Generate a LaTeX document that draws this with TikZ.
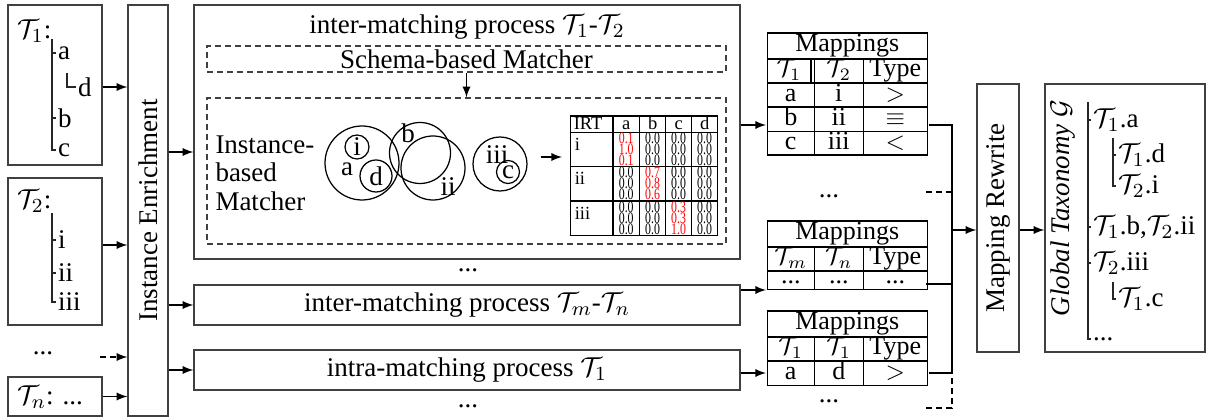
\documentclass[tikz,border=0pt]{standalone}
\usepackage{fontspec}
\setmainfont{Liberation Serif}
\usepackage{array}
\usepackage{tikz}
\usetikzlibrary{calc,positioning,fit}
\usetikzlibrary{shapes.geometric, arrows}
\setlength{\tabcolsep}{0pt}
\renewcommand{\arraystretch}{0}
\setlength{\arrayrulewidth}{0.6pt}
\setlength{\doublerulesep}{0.8pt}
\newcommand{\mT}[1]{$\mathcal{T}_{#1}$}
\newcommand{\hstrut}{\rule[-2.8pt]{0pt}{7.8pt}}
\newcommand{\rstrut}{\rule[-2pt]{0pt}{6.8pt}}
\newcommand{\irtstrut}{\rule[-0.2pt]{0pt}{13.2pt}}
\newcommand{\nums}[3]{\vbox{\fontsize{6.4}{4.4}\selectfont\lineskiplimit=-10pt
  \hbox{\scalebox{0.74}[1]{#1}}\hbox{\scalebox{0.74}[1]{#2}}\hbox{\scalebox{0.74}[1]{#3}}}}
\newcommand{\zz}{\nums{0.0}{0.0}{0.0}}
\newcommand{\rlab}[1]{\irtstrut\hspace{1.6pt}\raisebox{6pt}{#1}}
\tikzstyle{box} = [rectangle, draw=black!75, line width=0.5pt, inner sep=0pt]
\tikzstyle{dbox} = [box, dash pattern=on 2.4pt off 1.6pt]
\tikzstyle{set} = [circle, draw=black, line width=0.5pt, inner sep=0pt]
\tikzstyle{item} = [anchor=west, inner sep=0.6pt]
\tikzstyle{tree} = [line width=0.45pt, draw=black!85]
\tikzstyle{link} = [line width=0.5pt]
\tikzstyle{dlink} = [link, dash pattern=on 2.4pt off 1.6pt]
\tikzstyle{arrow} = [link,->,>=latex]
\tikzstyle{tbl} = [anchor=north west, inner sep=0pt, font=\fontsize{10.4}{12}\selectfont]
\begin{document}
\begin{tikzpicture}[x=0.4pt, y=-0.4pt, font=\fontsize{10.8}{13}\selectfont]
			\useasboundingbox (0,0) rectangle (1206,418);
			% input taxonomies
			\node (t1box) [box, fit={(8,5) (102,165)}] {};
			\node (t1name) [item] at (15,31) {\mT1:};
			\node (t1a) [item] at (56,53) {a};
			\node (t1d) [item] at (76,87) {d};
			\node (t1b) [item] at (56,118) {b};
			\node (t1c) [item] at (56,150) {c};
			\coordinate (t1trunk) at (52,39);
			\coordinate (t1sub) at (67,73);
			\draw [tree] (t1trunk) |- (t1c);
			\draw [tree] (t1trunk |- t1a) -- (t1a);
			\draw [tree] (t1trunk |- t1b) -- (t1b);
			\draw [tree] (t1sub) |- (t1d);
			
			\node (t2box) [box, fit={(8,178) (102,325)}] {};
			\node (t2name) [item] at (15,201) {\mT2:};
			\node (t2i) [item] at (56,240) {i};
			\node (t2ii) [item] at (56,273) {ii};
			\node (t2iii) [item] at (56,302) {iii};
			\coordinate (t2trunk) at (52,213);
			\draw [tree] (t2trunk) |- (t2iii);
			\draw [tree] (t2trunk |- t2i) -- (t2i);
			\draw [tree] (t2trunk |- t2ii) -- (t2ii);
			
			\node (tdots) at (43,353) {...};
			\node (tnbox) [box, fit={(8,377) (102,416)}] {};
			\node (tnname) [item] at (15,397) {$\mathcal{T}_n$: ...};
			
			\node (enrich) [box, fit={(128,5) (168,416)}] {};
			\node (enrichtxt) [rotate=90] at (enrich.center) {Instance Enrichment};
			
			% matching processes
			\node (inter12) [box, fit={(194,5) (740,259)}] {};
			\node (title12) at (467,27) {inter-matching process \mT1-\mT2};
			\node (schema) [dbox, fit={(207,46) (726,72)}] {};
			\node (schematxt) at (schema.center) {Schema-based Matcher};
			\node (inst) [dbox, fit={(207,98) (726,244)}] {};
			\node (insttxt) [anchor=west, align=left, inner sep=0pt, font=\fontsize{10.8}{11.4}\selectfont] at (215,173) {Instance-\\based\\Matcher};
			
			\node (seta) [set, minimum size=29.6pt] at (362,163) {};
			\node (seti) [set, minimum size=9.6pt] at (357,147) {i};
			\node (setd) [set, minimum size=12.8pt] at (376,176) {d};
			\node (lbla) at (347,169) {a};
			\node (setb) [set, minimum size=24.4pt] at (420,153) {};
			\node (lblb) at (408,133) {b};
			\node (setii) [set, minimum size=25.6pt] at (433,168) {};
			\node (lblii) at (448,187) {ii};
			\node (setiii) [set, minimum size=21.6pt] at (500,164) {};
			\node (lbliii) at (497,155) {iii};
			\node (setc) [set, minimum size=9.2pt] at (508,172) {c};
			
			\node (irt) [tbl] at (569,115) {\setlength{\arrayrulewidth}{0.5pt}\fontsize{7.4}{8}\selectfont
				\begin{tabular}{|w{l}{16.6pt}|w{c}{10.2pt}|w{c}{9.9pt}|w{c}{9.9pt}|w{c}{9.9pt}|}
					\hline
					\rule[-0.8pt]{0pt}{5.6pt}\hspace{1.2pt}IRT & a & b & c & d\\ \hline
					\rlab{i} & {\color{red}\nums{0.1}{1.0}{0.1}} & \zz & \zz & \zz\\ \hline
					\rlab{ii} & \zz & {\color{red}\nums{0.7}{0.8}{0.6}} & \zz & \zz\\ \hline
					\rlab{iii} & \zz & \zz & {\color{red}\nums{0.3}{0.3}{1.0}} & \zz\\ \hline
				\end{tabular}};
			
			\node (mdots1) at (468,270) {...};
			\node (intermn) [box, fit={(194,285) (740,325)}] {};
			\node (intermntxt) at (intermn.center) {inter-matching process $\mathcal{T}_m$-$\mathcal{T}_n$};
			\node (intra) [box, fit={(194,350) (740,390)}] {};
			\node (intratxt) at (intra.center) {intra-matching process \mT1};
			\node (mdots2) at (468,406) {...};
			
			% mappings
			\node (map1) [tbl] at (766,32) {\begin{tabular}{|w{c}{18.2pt}|w{c}{19pt}|w{c}{25pt}|}
					\hline
					\multicolumn{3}{|c|}{\hstrut Mappings}\\ \hline
					\multicolumn{1}{|w{c}{16.8pt}||}{\rstrut\mT1} & \mT2 & Type\\ \hline
					\rstrut a & i & $>$\\ \hline
					\rstrut b & ii & $\equiv$\\ \hline
					\rstrut c & iii & $<$\\ \hline
				\end{tabular}};
			\node (pdots1) at (829,196) {...};
			\node (map2) [tbl] at (766,220) {\begin{tabular}{|w{c}{18.2pt}|w{c}{19pt}|w{c}{25pt}|}
					\hline
					\multicolumn{3}{|c|}{\hstrut Mappings}\\ \hline
					\rstrut $\mathcal{T}_m$ & $\mathcal{T}_n$ & Type\\ \hline
					\rstrut ... & ... & ...\\ \hline
				\end{tabular}};
			\node (map3) [tbl] at (766,310) {\begin{tabular}{|w{c}{18.2pt}|w{c}{19pt}|w{c}{25pt}|}
					\hline
					\multicolumn{3}{|c|}{\hstrut Mappings}\\ \hline
					\rstrut \mT1 & \mT1 & Type\\ \hline
					\rstrut a & d & $>$\\ \hline
				\end{tabular}};
			\node (pdots2) at (829,401) {...};
			
			% output
			\node (rewrite) [box, fit={(977,84) (1019,352)}] {};
			\node (rewritetxt) [rotate=90] at (rewrite.center) {Mapping Rewrite};
			\node (global) [box, fit={(1045,84) (1205,352)}] {};
			\node (globaltxt) [rotate=90, font=\fontsize{10.8}{13}\selectfont\itshape] at (1063,208) {Global Taxonomy $\mathcal{G}$};
			\node (g1a) [item] at (1091,120) {\mT1.a};
			\node (g1d) [item] at (1116,155) {\mT1.d};
			\node (g2i) [item] at (1116,186) {\mT2.i};
			\node (g1b) [item] at (1091,227) {\mT1.b,\mT2.ii};
			\node (g2iii) [item] at (1091,263) {\mT2.iii};
			\node (g1c) [item] at (1116,299) {\mT1.c};
			\node (gdots) [item] at (1091,339) {...};
			\coordinate (gtrunk) at (1088,102);
			\coordinate (gsub1) at (1113,138);
			\coordinate (gsub2) at (1113,282);
			\draw [tree] (gtrunk) |- (gdots);
			\draw [tree] (gtrunk |- g1a) -- (g1a);
			\draw [tree] (gtrunk |- g1b) -- (g1b);
			\draw [tree] (gtrunk |- g2iii) -- (g2iii);
			\draw [tree] (gsub1) |- (g2i);
			\draw [tree] (gsub1 |- g1d) -- (g1d);
			\draw [tree] (gsub2) |- (g1c);
			
			%arrows
			\coordinate (t2out) at ([yshift=2.6pt]t2box.east);
			\coordinate (tdashed) at (100,357);
			\draw [arrow] (t1box.east |- t1d) -- (enrich.west |- t1d);
			\draw [arrow] (t2out) -- (enrich.west |- t2out);
			\draw [arrow, dlink] (tdashed) -- (enrich.west |- tdashed);
			\draw [arrow] (tnbox.east) -- (enrich.west |- tnbox.east);
			
			\coordinate (in12) at ([yshift=-8pt]inter12.west);
			\draw [arrow] (enrich.east |- in12) -- (in12);
			\draw [arrow] (enrich.east |- intermn.west) -- (intermn.west);
			\draw [arrow] (enrich.east |- intra.west) -- (intra.west);
			\draw [arrow] (schema) -- (inst);
			\coordinate (irtarr) at (0,157);
			\draw [arrow, shorten <=5.2pt, shorten >=2.8pt] (setiii.east |- irtarr) -- (irt.west |- irtarr);
			
			\coordinate (m1in) at (766,125);
			\coordinate (m2in) at (766,290);
			\coordinate (m3in) at (766,373);
			\draw [arrow] (inter12.east |- m1in) -- (m1in);
			\draw [arrow] (intermn.east |- m2in) -- (m2in);
			\draw [arrow] (intra.east |- m3in) -- (m3in);
			
			\coordinate (jx) at (952,230);
			\coordinate (m2out) at (926,284);
			\coordinate (dsh1) at (926,192);
			\coordinate (dsh2) at (926,408);
			\draw [link] (map1.east |- m1in) -| (jx);
			\draw [link] (m2out) -| (jx);
			\draw [link] (map3.east |- m3in) -| (jx);
			\draw [dlink] (dsh1) -- (dsh1 -| jx);
			\draw [dlink] (dsh2) -| (jx |- m3in);
			\draw [arrow] (jx) -- (rewrite.west |- jx);
			\draw [arrow] (rewrite.east |- jx) -- (global.west |- jx);
			
		\end{tikzpicture}
\end{document}
